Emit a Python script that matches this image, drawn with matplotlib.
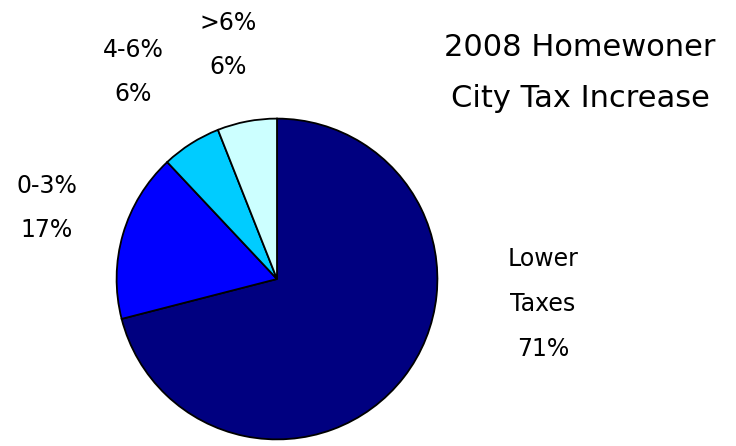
import matplotlib
matplotlib.use("Agg")
import matplotlib.pyplot as plt

# Data
categories = ["Lower\nTaxes", "0-3%", "4-6%", ">6%"]
shares = [71, 17, 6, 6]
colors = ["#000080", "#0000FF", "#00CCFF", "#CCFFFF"]
title_lines = ["2008 Homewoner", "City Tax Increase"]

# label anchor points (figure pixels, from top-left)
label_pos = [(543, 304), (47, 208), (133, 72), (228, 45)]

W, H = 736, 446
fig = plt.figure(figsize=(W / 100, H / 100), dpi=100)
cx, cy, r = 277, 279, 162
ax = fig.add_axes([(cx - r) / W, (H - cy - r) / H, 2 * r / W, 2 * r / H])
ax.pie(shares, colors=colors, startangle=90, counterclock=False,
       wedgeprops=dict(edgecolor="black", linewidth=1.3), radius=1)
ax.set_xlim(-1.01, 1.01)
ax.set_ylim(-1.01, 1.01)
ax.set_aspect("equal")
ax.axis("off")

total = sum(shares)
for name, val, (px, py) in zip(categories, shares, label_pos):
    pct = round(100 * val / total)
    fig.text(px / W, 1 - py / H, f"{name}\n{pct}%", ha="center", va="center",
             fontsize=17, linespacing=2.1, color="black")

fig.text(580 / W, 1 - 73 / H, "\n".join(title_lines), ha="center", va="center",
         fontsize=22, linespacing=1.95, color="black")

fig.savefig("out.png", dpi=100)
